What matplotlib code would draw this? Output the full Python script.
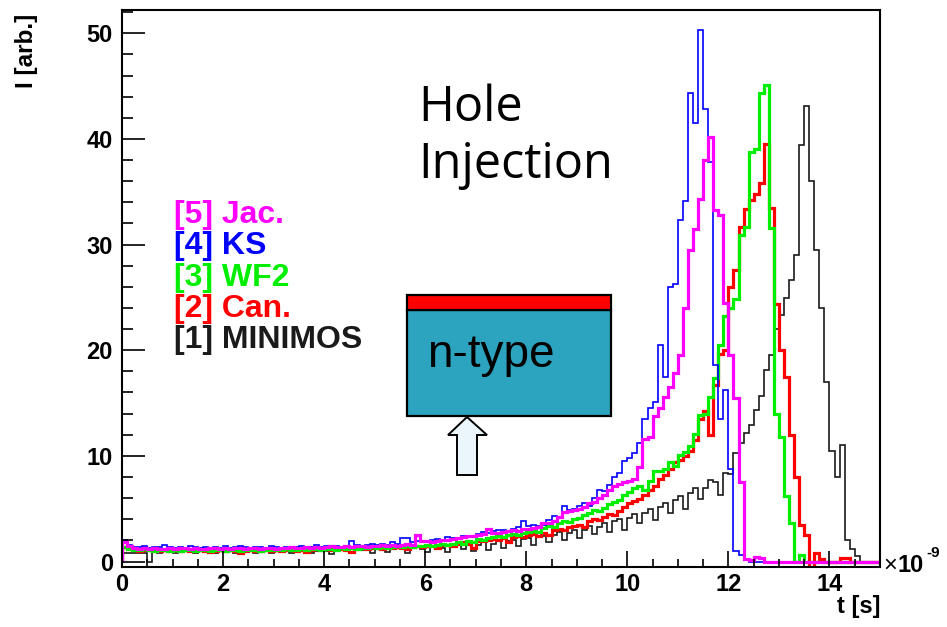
import numpy as np
import matplotlib.pyplot as plt
from matplotlib.patches import Rectangle, Polygon
from matplotlib.ticker import MultipleLocator

plt.rcParams['font.family'] = ['Liberation Sans', 'DejaVu Sans']

# induced current per 0.1 ns time bin, 0 .. 15 ns
bin_width = 0.1
n_bins = 150

jac = [
    1.8, 1.5, 1.3, 1.2, 1.3, 1.2, 1.3, 1.2, 1.2, 1.3,
    1.2, 1.3, 1.3, 1.2, 1.3, 1.2, 1.2, 1.3, 1.3, 1.2,
    1.3, 1.2, 1.3, 1.3, 1.2, 1.3, 1.3, 1.2, 1.3, 1.3,
    1.2, 1.3, 1.3, 1.4, 1.3, 1.3, 1.4, 1.3, 1.4, 1.3,
    1.4, 1.5, 1.4, 1.4, 1.5, 1.4, 1.5, 1.5, 1.4, 1.5,
    1.5, 1.6, 1.5, 1.6, 1.5, 1.6, 1.7, 1.6, 2.5, 1.9,
    1.9, 1.8, 1.9, 2.0, 2.0, 2.1, 2.2, 2.3, 2.4, 2.4,
    2.5, 2.6, 3.1, 2.7, 2.7, 2.8, 2.9, 3.0, 2.9, 3.1,
    3.1, 3.2, 3.3, 3.6, 3.6, 3.8, 4.2, 4.7, 4.8, 4.9,
    5.0, 5.2, 5.5, 5.6, 6.0, 6.3, 6.8, 7.1, 7.3, 7.5,
    7.6, 7.8, 8.9, 11.6, 11.8, 13.8, 14.5, 15.6, 16.5, 17.8,
    19.5, 24.0, 29.5, 31.5, 34.3, 38.0, 40.2, 33.3, 32.8, 24.5,
    19.5, 15.5, 7.5, 0.2, 0.1, 0.4, 0.3, 0.0, 0.0, 0.0,
    0.0, 0.0, 0.0, 0.0, 0.0, 0.0, 0.0, 0.0, 0.0, 0.0,
    0.0, 0.0, 0.0, 0.0, 0.0, 0.0, 0.0, 0.0, 0.0, 0.0,
]

ks = [
    2.0, 1.6, 1.4, 1.4, 1.5, 1.3, 1.4, 1.4, 1.6, 1.4,
    1.3, 1.4, 1.3, 1.5, 1.4, 1.3, 1.4, 1.3, 1.4, 1.3,
    1.5, 1.3, 1.4, 1.5, 1.4, 1.3, 1.4, 1.4, 1.3, 1.5,
    1.4, 1.3, 1.4, 1.3, 1.4, 1.5, 1.4, 1.4, 1.6, 1.4,
    1.5, 1.4, 1.5, 1.4, 1.5, 1.9, 1.6, 1.5, 1.6, 1.7,
    1.6, 1.7, 1.6, 1.8, 1.7, 2.2, 2.2, 1.8, 1.9, 1.8,
    1.9, 2.0, 2.1, 2.0, 2.3, 2.2, 2.1, 2.4, 2.3, 2.4,
    2.6, 2.8, 2.7, 2.9, 3.0, 3.0, 2.9, 3.1, 3.3, 3.8,
    3.4, 3.5, 3.4, 3.5, 3.9, 4.3, 4.1, 5.3, 4.9, 5.0,
    5.3, 5.5, 5.3, 6.0, 6.8, 6.7, 7.2, 8.0, 8.4, 9.5,
    9.8, 10.3, 11.2, 13.5, 14.5, 15.1, 20.5, 17.5, 26.0, 26.3,
    32.3, 34.1, 44.3, 41.5, 50.3, 42.8, 37.8, 18.6, 13.5, 16.2,
    8.8, 1.0, 0.6, 0.1, 0.0, 0.0, 0.0, 0.0, 0.0, 0.0,
    0.0, 0.0, 0.0, 0.0, 0.0, 0.0, 0.0, 0.0, 0.0, 0.0,
    0.0, 0.0, 0.0, 0.0, 0.0, 0.0, 0.0, 0.0, 0.0, 0.0,
]

wf2 = [
    1.4, 1.2, 1.1, 1.1, 1.2, 1.1, 1.0, 1.1, 1.1, 1.0,
    1.1, 1.0, 1.1, 1.1, 1.0, 1.1, 1.1, 1.0, 1.1, 1.1,
    1.0, 1.1, 1.1, 1.0, 1.1, 1.1, 1.1, 1.0, 1.1, 1.1,
    1.1, 1.1, 1.2, 1.1, 1.1, 1.2, 1.1, 1.2, 1.2, 1.1,
    1.2, 1.2, 1.1, 1.3, 1.2, 1.3, 1.2, 1.3, 1.3, 1.4,
    1.3, 1.4, 1.3, 1.4, 1.5, 1.4, 1.5, 1.4, 1.5, 1.5,
    1.6, 1.5, 1.6, 1.7, 1.6, 1.7, 1.8, 1.7, 1.9, 1.8,
    2.1, 2.0, 2.2, 2.3, 2.4, 2.3, 2.5, 2.6, 2.5, 2.7,
    2.8, 2.9, 2.8, 3.2, 3.4, 3.3, 3.6, 3.8, 3.7, 4.0,
    4.1, 4.4, 4.6, 4.9, 4.8, 5.1, 5.4, 5.6, 5.8, 6.3,
    6.6, 7.0, 7.1, 6.8, 7.6, 8.6, 8.6, 8.8, 9.4, 9.0,
    10.1, 10.4, 10.9, 12.1, 13.9, 14.0, 15.6, 17.4, 20.5, 23.2,
    24.0, 24.8, 30.9, 31.7, 38.8, 39.0, 44.3, 45.1, 31.6, 14.0,
    11.8, 6.2, 3.6, 0.0, 0.6, 0.0, 0.0, 0.0, 0.0, 0.0,
    0.0, 0.0, 0.0, 0.0, 0.0, 0.0, 0.0, 0.0, 0.0, 0.0,
]

can = [
    1.4, 1.2, 1.1, 1.0, 1.1, 1.1, 1.0, 1.0, 1.1, 1.0,
    1.1, 1.0, 1.1, 1.0, 1.0, 1.1, 1.0, 0.9, 1.0, 1.1,
    1.0, 1.1, 1.0, 0.8, 1.0, 1.1, 1.0, 1.0, 1.1, 1.0,
    1.1, 1.0, 1.1, 1.1, 1.0, 1.1, 0.9, 1.1, 1.2, 1.1,
    1.2, 1.1, 1.2, 1.2, 1.1, 0.9, 1.2, 1.3, 1.2, 1.3,
    1.3, 1.2, 1.4, 1.3, 1.4, 1.3, 1.2, 1.4, 1.5, 1.4,
    1.5, 1.5, 1.3, 1.6, 1.6, 1.5, 1.7, 1.8, 1.7, 1.3,
    1.9, 1.9, 2.0, 2.1, 2.0, 2.2, 1.8, 2.3, 2.4, 2.3,
    2.5, 2.6, 2.4, 2.7, 2.5, 3.0, 3.1, 3.0, 3.3, 3.4,
    3.5, 3.3, 3.8, 4.0, 3.9, 4.2, 4.5, 4.4, 4.8, 5.2,
    5.5, 5.7, 5.9, 6.3, 6.8, 7.1, 7.8, 8.2, 8.8, 9.4,
    9.6, 10.0, 10.5, 11.5, 13.5, 14.2, 12.0, 16.7, 19.6, 20.0,
    26.0, 27.6, 31.7, 33.4, 34.2, 34.8, 35.8, 39.5, 33.5, 24.4,
    20.0, 17.5, 12.0, 8.0, 3.5, 2.5, -0.5, 0.8, 0.2, 0.0,
    0.0, 0.0, 0.3, 0.3, 0.0, 0.0, 0.0, 0.0, 0.0, 0.0,
]

minimos = [
    0.8, 0.8, 0.8, 0.8, 0.8, 0.0, 1.0, 0.8, 1.0, 1.0,
    0.8, 1.0, 1.1, 1.0, 0.8, 1.1, 1.0, 1.0, 0.8, 1.0,
    1.1, 1.0, 0.8, 1.0, 1.1, 1.0, 0.8, 1.1, 1.0, 0.8,
    1.0, 1.1, 1.0, 0.8, 1.1, 1.0, 1.1, 0.8, 1.0, 1.1,
    1.0, 0.7, 1.1, 1.2, 1.0, 0.8, 1.2, 1.1, 1.2, 0.8,
    1.2, 1.3, 0.9, 1.2, 1.3, 1.2, 0.8, 1.3, 1.4, 1.2,
    0.9, 1.4, 1.5, 1.3, 0.9, 1.5, 1.6, 1.2, 1.6, 1.0,
    1.6, 1.8, 1.1, 1.7, 1.9, 1.3, 1.9, 2.0, 1.5, 2.1,
    2.2, 1.6, 2.3, 2.4, 1.8, 2.5, 2.8, 2.0, 2.7, 3.0,
    2.2, 3.0, 3.4, 2.6, 3.3, 3.6, 2.8, 3.8, 4.0, 3.0,
    4.1, 4.5, 3.6, 4.6, 5.0, 3.9, 5.2, 5.5, 4.6, 5.8,
    6.2, 5.0, 6.5, 7.0, 5.9, 7.0, 7.7, 7.5, 6.3, 8.4,
    8.3, 10.3, 11.2, 12.2, 12.9, 14.3, 15.7, 18.1, 19.5, 22.0,
    23.3, 24.9, 26.6, 29.0, 39.4, 43.1, 36.0, 29.5, 24.0, 17.0,
    10.5, 8.0, 11.0, 2.0, 1.2, 0.5, 0.0, 0.0, 0.0, 0.0,
]

labels = ['[1] MINIMOS', '[2] Can.', '[3] WF2', '[4] KS', '[5] Jac.']
colors = ['#1a1a1a', '#ff0000', '#00ee00', '#0000ff', '#ff00ff']
widths = [1.2, 2.3, 2.3, 1.2, 2.3]
series = [minimos, can, wf2, ks, jac]

edges = np.arange(n_bins + 1) * bin_width

W, H = 947, 627
fig = plt.figure(figsize=(W / 100, H / 100), dpi=100)
ax = fig.add_axes([122 / W, 1 - 567 / H, (880 - 122) / W, (567 - 10) / H])

for vals, col, lw in zip(series, colors, widths):
    ax.stairs(vals, edges, color=col, linewidth=lw)

ax.set_xlim(0, 15)
ax.set_ylim(-0.52, 52.2)

ax.xaxis.set_major_locator(MultipleLocator(2))
ax.xaxis.set_minor_locator(MultipleLocator(0.5))
ax.yaxis.set_major_locator(MultipleLocator(10))
ax.yaxis.set_minor_locator(MultipleLocator(2))
ax.tick_params(which='both', direction='in', top=False, right=False, width=1.2)
ax.tick_params(axis='x', which='major', length=11.5, pad=4)
ax.tick_params(axis='x', which='minor', length=5.8)
ax.tick_params(axis='y', which='major', length=16.5, pad=6.5)
ax.tick_params(axis='y', which='minor', length=8)
for lab in ax.get_xticklabels() + ax.get_yticklabels():
    lab.set_fontsize(17)
    lab.set_fontweight('bold')
for sp in ax.spines.values():
    sp.set_linewidth(1.5)

# axis titles, ROOT style
fig.text(27 / W, 1 - 14 / H, 'I [arb.]', rotation=90, ha='center', va='top',
         fontsize=17.5, fontweight='bold')
fig.text(880 / W, 1 - 607 / H, 't [s]', ha='right', va='center',
         fontsize=17, fontweight='bold')
fig.text(883 / W, 1 - 566 / H, '\u00d7', ha='left', va='center', fontsize=17)
fig.text(897 / W, 1 - 566 / H, '10', ha='left', va='center', fontsize=17,
         fontweight='bold')
fig.text(926 / W, 1 - 553 / H, '-9', ha='left', va='center', fontsize=11,
         fontweight='bold')

# legend entries
legend_y = [348, 317, 286, 254, 223]
for lab, col, yb in zip(labels, colors, legend_y):
    fig.text(174 / W, 1 - yb / H, lab, color=col, fontsize=23,
             fontweight='bold', ha='left', va='baseline')

fig.text(418 / W, 1 - 121 / H, 'Hole', family=['Open Sans', 'DejaVu Sans'],
         fontsize=35, ha='left', va='baseline')
fig.text(418 / W, 1 - 178 / H, 'Injection', family=['Open Sans', 'DejaVu Sans'],
         fontsize=35, ha='left', va='baseline')

# detector sketch: n-type bulk with p+ implant on top, light from below
fig.patches.append(Rectangle((407 / W, 1 - 416 / H), 204 / W, 106 / H,
                             transform=fig.transFigure, facecolor='#2ca3bf',
                             edgecolor='black', linewidth=1.6))
fig.patches.append(Rectangle((407 / W, 1 - 310 / H), 204 / W, 15 / H,
                             transform=fig.transFigure, facecolor='#ff0000',
                             edgecolor='black', linewidth=1.6))
fig.text(427 / W, 1 - 367 / H, 'n-type', fontsize=33, ha='left', va='baseline')

arrow_px = [(467, 417), (487, 435), (477, 435), (477, 475),
            (457, 475), (457, 435), (448, 435)]
fig.patches.append(Polygon([(x / W, 1 - y / H) for x, y in arrow_px],
                           closed=True, transform=fig.transFigure,
                           facecolor='#eaf6fb', edgecolor='black',
                           linewidth=1.4))

fig.savefig('out.png', dpi=100)
